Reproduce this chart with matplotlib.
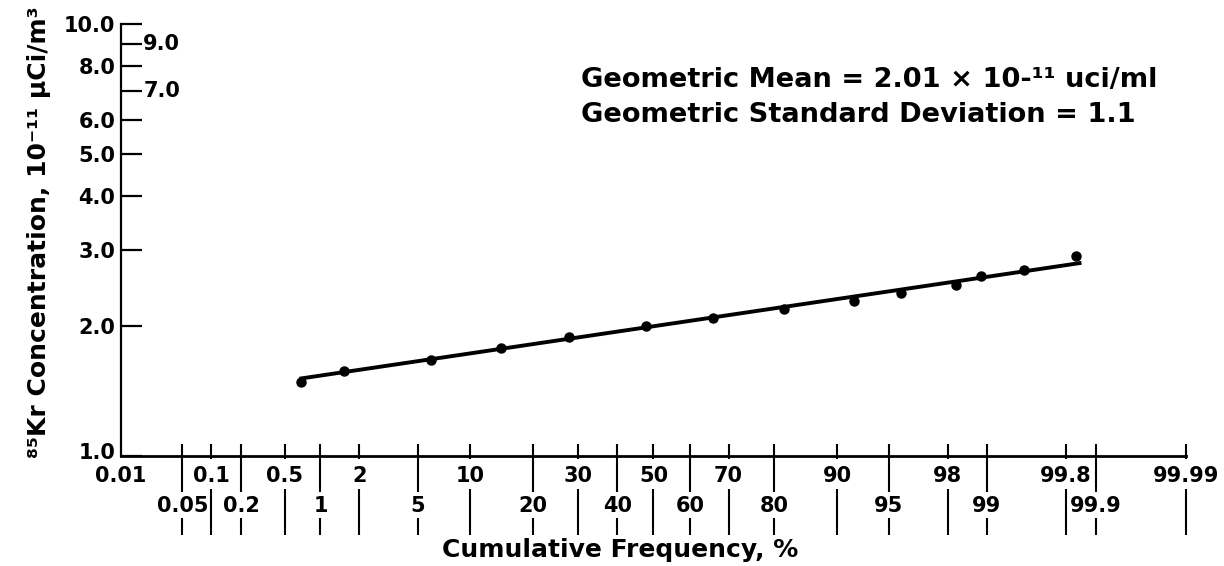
import numpy as np
import matplotlib
matplotlib.use('Agg')
import matplotlib.pyplot as plt
from matplotlib.ticker import NullFormatter
from matplotlib.transforms import ScaledTranslation
from statistics import NormalDist

plt.rcParams['font.family'] = ['DejaVu Sans']
plt.rcParams['font.weight'] = 'bold'

# cumulative frequency (%) vs 85Kr concentration (10^-11 uCi/m3)
freq = [0.69, 1.54, 6.0, 14.3, 27.7, 47.8, 66.2, 81.9, 91.9, 95.8, 98.28, 98.9, 99.52, 99.84]
conc = [1.48, 1.57, 1.67, 1.78, 1.89, 2.00, 2.09, 2.19, 2.28, 2.38, 2.49, 2.61, 2.70, 2.90]

# fitted log-normal line (end points)
fit_freq = [0.67, 99.86]
fit_conc = [1.51, 2.80]

# x ticks, two label rows
x_top = [0.01, 0.1, 0.5, 2, 10, 30, 50, 70, 90, 98, 99.8, 99.99]
x_top_lab = ['0.01', '0.1', '0.5', '2', '10', '30', '50', '70', '90', '98', '99.8', '99.99']
x_bot = [0.05, 0.2, 1, 5, 20, 40, 60, 80, 95, 99, 99.9]
x_bot_lab = ['0.05', '0.2', '1', '5', '20', '40', '60', '80', '95', '99', '99.9']

# y ticks: labelled left, and two labelled inside
y_left = [1, 2, 3, 4, 5, 6, 8, 10]
y_inside = [7, 9]

nd = NormalDist()
_ppf = np.vectorize(nd.inv_cdf, otypes=[float])
_cdf = np.vectorize(nd.cdf, otypes=[float])


def fwd(p):
    p = np.clip(np.asarray(p, dtype=float) / 100.0, 1e-10, 1 - 1e-10)
    return _ppf(p)


def inv(z):
    return _cdf(np.asarray(z, dtype=float)) * 100.0


fig = plt.figure(figsize=(12.24, 5.66), dpi=100)
ax = fig.add_axes([0.0989, 0.1943, 0.870, 0.7633])
ax.set_xscale('function', functions=(fwd, inv))
ax.set_yscale('log')
ax.set_xlim(0.01, 99.99)
ax.set_ylim(1, 10)

ax.plot(fit_freq, fit_conc, color='black', lw=2.8, solid_capstyle='butt')
ax.plot(freq, conc, 'o', color='black', ms=6.5)

for s in ['top', 'right']:
    ax.spines[s].set_visible(False)
ax.spines['left'].set_linewidth(1.6)
ax.spines['bottom'].set_linewidth(2.0)

# y axis
ax.set_yticks(y_left, labels=['%.1f' % v for v in y_left])
ax.set_yticks(y_inside, minor=True)
ax.yaxis.set_minor_formatter(NullFormatter())
ax.tick_params(axis='y', which='both', direction='in', length=15, width=1.6,
               labelsize=15, pad=4)
for v in y_inside:
    ax.annotate('%.1f' % v, xy=(0, v), xycoords=ax.get_yaxis_transform(),
                xytext=(16, 0), textcoords='offset points',
                ha='left', va='center', fontsize=15)

# lift the 1.0 label a little, as in the original
lab0 = ax.yaxis.get_major_ticks()[0].label1
lab0.set_transform(lab0.get_transform() + ScaledTranslation(0, 5 / 100, fig.dpi_scale_trans))

# x axis labels in two rows, tick lines drawn by hand
ax.set_xticks(x_top, labels=x_top_lab)
ax.set_xticks(x_bot, labels=x_bot_lab, minor=True)
ax.tick_params(axis='x', which='major', length=0, labelsize=15, pad=7)
ax.tick_params(axis='x', which='minor', length=0, labelsize=15, pad=29)

hpx = 432.0
tr = ax.get_xaxis_transform()
top_pos = x_top[1:]
ax.vlines(top_pos, 12 / hpx, -3 / hpx, transform=tr, color='black', lw=1.5, clip_on=False)
ax.vlines(top_pos, -33 / hpx, -79 / hpx, transform=tr, color='black', lw=1.5, clip_on=False)
ax.vlines(x_bot, 12 / hpx, -36 / hpx, transform=tr, color='black', lw=1.5, clip_on=False)
ax.vlines(x_bot, -62 / hpx, -79 / hpx, transform=tr, color='black', lw=1.5, clip_on=False)

ax.set_ylabel('\u2078\u2075Kr Concentration, 10\u207b\u00b9\u00b9 \u00b5Ci/m\u00b3',
              fontsize=18, fontweight='bold')
ax.yaxis.set_label_coords(-0.066, 0.518)
fig.text(0.5065, 0.028, 'Cumulative Frequency, %', ha='center', va='center', fontsize=18)

ax.text(0.432, 0.870, 'Geometric Mean = 2.01 \u00d7 10-\u00b9\u00b9 uci/ml',
        transform=ax.transAxes, ha='left', va='center', fontsize=19.6)
ax.text(0.432, 0.789, 'Geometric Standard Deviation = 1.1',
        transform=ax.transAxes, ha='left', va='center', fontsize=19.6)

fig.savefig('out.png', dpi=100)
